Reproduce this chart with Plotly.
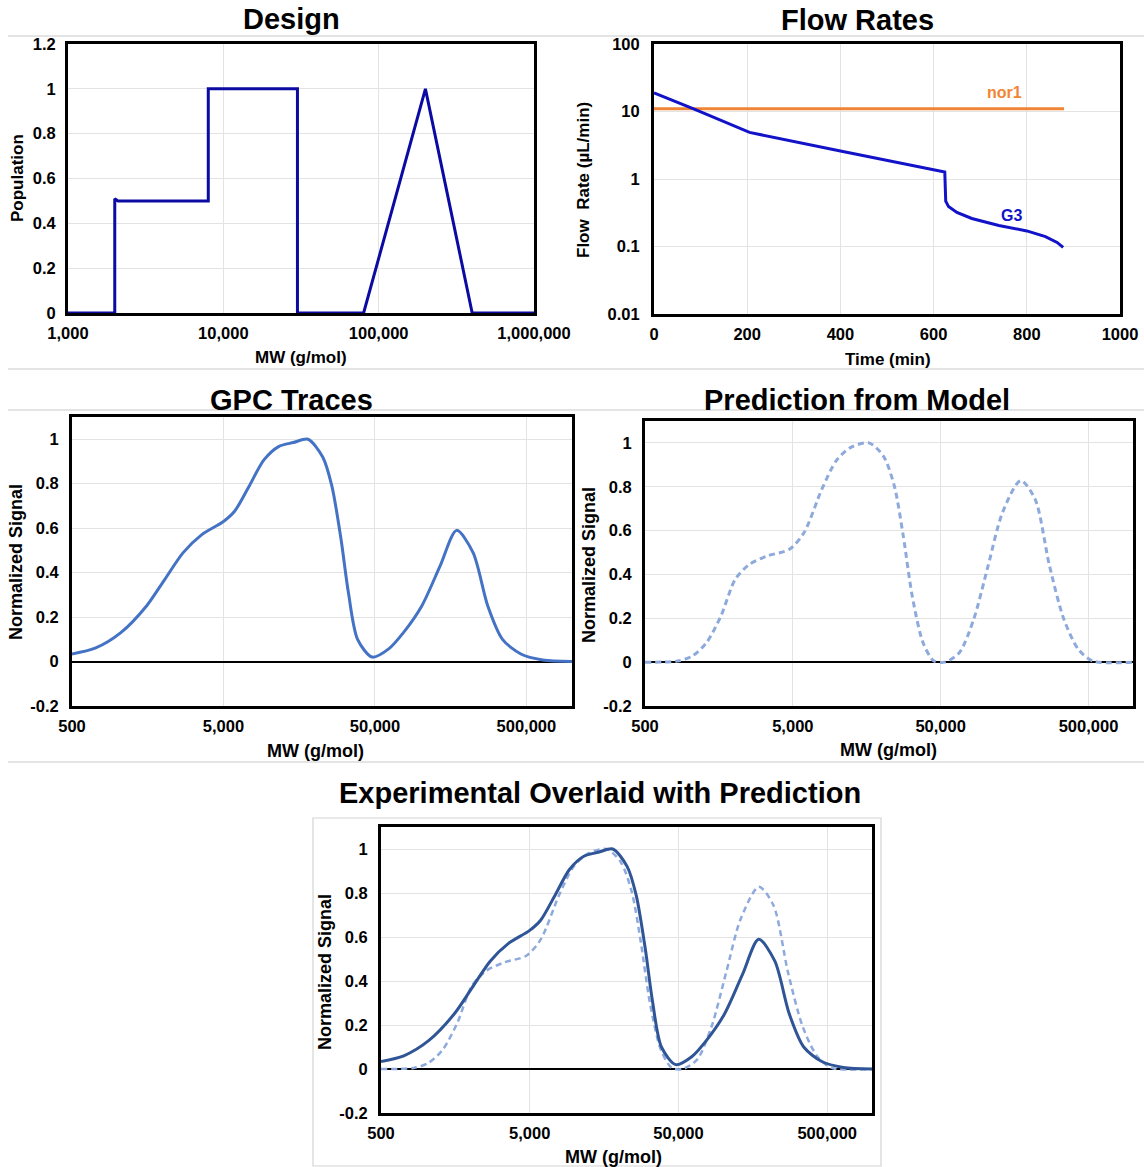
import plotly.graph_objects as go
import math

# ---------------- DATA ----------------
design_mw = [1000, 2000, 2000, 2100, 8000, 8000, 30000, 30000, 80000, 200000, 400000, 1000000]
design_pop = [0, 0, 0.51, 0.5, 0.5, 1, 1, 0, 0, 1, 0, 0]

nor1_t = [0, 880]
nor1_rate = [11, 11]

g3_t = [0, 85, 205, 225, 400, 624, 626, 632, 650, 682, 740, 800, 840, 865, 878]
g3_rate = [18.8, 10.9, 4.9, 4.6, 2.6, 1.27, 0.47, 0.39, 0.32, 0.26, 0.205, 0.17, 0.14, 0.115, 0.097]

exp_mw = [500, 711, 1050, 1552, 2051, 2710, 3582, 5000, 5920, 7400, 9250, 11560, 14460, 18070,
          22600, 25970, 29860, 33400, 38400, 47960, 61650, 77100, 101900, 134700, 173000,
          222300, 278000, 347600, 459700, 642000, 1000000]
exp_sig = [0.034, 0.06, 0.13, 0.25, 0.37, 0.49, 0.57, 0.63, 0.676, 0.79, 0.907, 0.967, 0.985, 1.0,
           0.92, 0.79, 0.55, 0.31, 0.10, 0.02, 0.057, 0.13, 0.25, 0.43, 0.59,
           0.49, 0.25, 0.10, 0.034, 0.007, 0.0]

pred_mw = [500, 830, 1039, 1301, 1630, 2040, 2555, 3385, 4745, 5943, 7870, 9860, 12350, 16370,
           20490, 24260, 27920, 32140, 38040, 45050, 53340, 66800, 83600, 104700, 131100,
           173700, 217500, 272300, 341100, 427400, 535600, 1000000]
pred_sig = [0.0, 0.005, 0.027, 0.088, 0.21, 0.378, 0.447, 0.485, 0.515, 0.59, 0.79, 0.92, 0.98, 1.0,
            0.94, 0.805, 0.576, 0.30, 0.088, 0.005, 0.0, 0.043, 0.195, 0.44, 0.683,
            0.828, 0.744, 0.44, 0.195, 0.058, 0.005, 0.0]

mw_ticks_design = [1000, 10000, 100000, 1000000]
mw_text_design = ["1,000", "10,000", "100,000", "1,000,000"]
mw_ticks_gpc = [500, 5000, 50000, 500000]
mw_text_gpc = ["500", "5,000", "50,000", "500,000"]
sig_ticks = [-0.2, 0, 0.2, 0.4, 0.6, 0.8, 1]
sig_text = ["-0.2", "0", "0.2", "0.4", "0.6", "0.8", "1"]
pop_ticks = [0, 0.2, 0.4, 0.6, 0.8, 1, 1.2]
pop_text = ["0", "0.2", "0.4", "0.6", "0.8", "1", "1.2"]
flow_ticks = [0.01, 0.1, 1, 10, 100]
flow_text = ["0.01", "0.1", "1", "10", "100"]
time_ticks = [0, 200, 400, 600, 800, 1000]
time_text = ["0", "200", "400", "600", "800", "1000"]

# ---------------- LAYOUT HELPERS ----------------
W, H = 1144, 1167
FONT = "Liberation Sans, Arial, sans-serif"


def fx(px):
    return px / W


def fy(py):
    return 1 - py / H


def xdom(x0, x1):
    return [fx(x0), fx(x1)]


def ydom(y0, y1):
    return [fy(y1), fy(y0)]


tickfont = dict(family=FONT, size=16.5, color="black", weight="bold")
GRID = "#e3e3e3"


def axis_common():
    return dict(showline=True, mirror=True, linewidth=3, linecolor="black",
                showgrid=True, gridcolor=GRID, gridwidth=1.2, ticks="",
                tickfont=tickfont, zeroline=False, fixedrange=True, automargin=False)


fig = go.Figure()

# Design
fig.add_trace(go.Scatter(x=design_mw, y=design_pop, mode="lines",
                         line=dict(color="#0b0ba3", width=3), xaxis="x", yaxis="y", showlegend=False))
# Flow rates
fig.add_trace(go.Scatter(x=nor1_t, y=nor1_rate, mode="lines",
                         line=dict(color="#f08536", width=3), xaxis="x2", yaxis="y2", showlegend=False))
fig.add_trace(go.Scatter(x=g3_t, y=g3_rate, mode="lines",
                         line=dict(color="#1212c8", width=3), xaxis="x2", yaxis="y2", showlegend=False))
# GPC traces
fig.add_trace(go.Scatter(x=exp_mw, y=exp_sig, mode="lines", line_shape="spline",
                         line=dict(color="#4472c4", width=3, smoothing=0.8), xaxis="x3", yaxis="y3", showlegend=False))
# Prediction
fig.add_trace(go.Scatter(x=pred_mw, y=pred_sig, mode="lines", line_shape="spline",
                         line=dict(color="#8eaadc", width=3, dash="6px,4px", smoothing=0.8),
                         xaxis="x4", yaxis="y4", showlegend=False))
# Overlay
fig.add_trace(go.Scatter(x=pred_mw, y=pred_sig, mode="lines", line_shape="spline",
                         line=dict(color="#8eaadc", width=2.5, dash="6px,4px", smoothing=0.8),
                         xaxis="x5", yaxis="y5", showlegend=False))
fig.add_trace(go.Scatter(x=exp_mw, y=exp_sig, mode="lines", line_shape="spline",
                         line=dict(color="#2f5597", width=3, smoothing=0.8), xaxis="x5", yaxis="y5", showlegend=False))

lay = dict(width=W, height=H, autosize=False, margin=dict(l=0, r=0, t=0, b=0, pad=0, autoexpand=False),
           paper_bgcolor="white", plot_bgcolor="white", showlegend=False)

XSO = 3   # x tick label standoff
# Design axes
lay["xaxis"] = dict(axis_common(), domain=xdom(68, 534), type="log", range=[3, 6],
                    tickvals=mw_ticks_design, ticktext=mw_text_design, anchor="y", ticklabelstandoff=XSO)
lay["yaxis"] = dict(axis_common(), domain=ydom(44, 313), range=[0, 1.2],
                    tickvals=pop_ticks, ticktext=pop_text, anchor="x", ticklabelstandoff=6)
# Flow axes
lay["xaxis2"] = dict(axis_common(), domain=xdom(654, 1120), range=[0, 1000],
                     tickvals=time_ticks, ticktext=time_text, anchor="y2", ticklabelstandoff=XSO)
lay["yaxis2"] = dict(axis_common(), domain=ydom(44, 314), type="log", range=[-2, 2],
                     tickvals=flow_ticks, ticktext=flow_text, anchor="x2", ticklabelstandoff=8)
# GPC axes
lay["xaxis3"] = dict(axis_common(), domain=xdom(72, 572), type="log", range=[math.log10(500), 6],
                     tickvals=mw_ticks_gpc, ticktext=mw_text_gpc, anchor="y3", ticklabelstandoff=XSO)
lay["yaxis3"] = dict(axis_common(), domain=ydom(417, 706), range=[-0.2, 1.1],
                     tickvals=sig_ticks, ticktext=sig_text, anchor="x3", ticklabelstandoff=7,
                     zeroline=True, zerolinecolor="black", zerolinewidth=1.5)
# Prediction axes
lay["xaxis4"] = dict(axis_common(), domain=xdom(645, 1133), type="log", range=[math.log10(500), 6],
                     tickvals=mw_ticks_gpc, ticktext=mw_text_gpc, anchor="y4", ticklabelstandoff=XSO)
lay["yaxis4"] = dict(axis_common(), domain=ydom(421, 706), range=[-0.2, 1.1],
                     tickvals=sig_ticks, ticktext=sig_text, anchor="x4", ticklabelstandoff=7,
                     zeroline=True, zerolinecolor="black", zerolinewidth=1.5)
# Overlay axes
lay["xaxis5"] = dict(axis_common(), domain=xdom(381, 872), type="log", range=[math.log10(500), 6],
                     tickvals=mw_ticks_gpc, ticktext=mw_text_gpc, anchor="y5", ticklabelstandoff=XSO)
lay["yaxis5"] = dict(axis_common(), domain=ydom(827, 1113), range=[-0.2, 1.1],
                     tickvals=sig_ticks, ticktext=sig_text, anchor="x5", ticklabelstandoff=7,
                     zeroline=True, zerolinecolor="black", zerolinewidth=1.5)

fig.update_layout(**lay)

# Separator lines and overlay frame
SEP = "#c9c9c9"
shapes = []
for yy in [36, 369, 410, 762]:
    shapes.append(dict(type="line", xref="paper", yref="paper", x0=fx(8), x1=fx(1144),
                       y0=fy(yy), y1=fy(yy), line=dict(color=SEP, width=1.2), layer="below"))
shapes.append(dict(type="rect", xref="paper", yref="paper", x0=fx(313), x1=fx(881),
                   y0=fy(1166), y1=fy(818), line=dict(color="#d4d4d4", width=1.2), layer="below"))
fig.update_layout(shapes=shapes)

annotations = []


def text(x, y, s, size=15, color="black", angle=0):
    annotations.append(dict(x=fx(x), y=fy(y), xref="paper", yref="paper", text=s, showarrow=False,
                            xanchor="center", yanchor="middle", textangle=angle,
                            font=dict(family=FONT, size=size, color=color, weight="bold")))


# Panel titles
text(291, 19, "Design", 29)
text(857, 20, "Flow Rates", 29)
text(291, 400, "GPC Traces", 29)
text(857, 400, "Prediction from Model", 29)
text(600, 793, "Experimental Overlaid with Prediction", 29)

# Axis titles
text(301, 357, "MW (g/mol)", 17)
text(17, 178, "Population", 17, angle=-90)
text(888, 359, "Time (min)", 17)
text(584, 180, "Flow  Rate (µL/min)", 17, angle=-90)
text(316, 751, "MW (g/mol)", 18)
text(16, 562, "Normalized Signal", 18, angle=-90)
text(888, 750, "MW (g/mol)", 18)
text(589, 565, "Normalized Signal", 18, angle=-90)
text(613, 1157, "MW (g/mol)", 18)
text(325, 972, "Normalized Signal", 18, angle=-90)

fig.update_layout(annotations=annotations)

# Series labels on flow-rate chart
fig.add_annotation(x=753, y=math.log10(18.8), xref="x2", yref="y2", text="nor1", showarrow=False,
                   font=dict(family=FONT, size=16, color="#f08536", weight="bold"))
fig.add_annotation(x=768, y=math.log10(0.29), xref="x2", yref="y2", text="G3", showarrow=False,
                   font=dict(family=FONT, size=16, color="#1212c8", weight="bold"))

fig.write_html("out.html", config={"responsive": False})
